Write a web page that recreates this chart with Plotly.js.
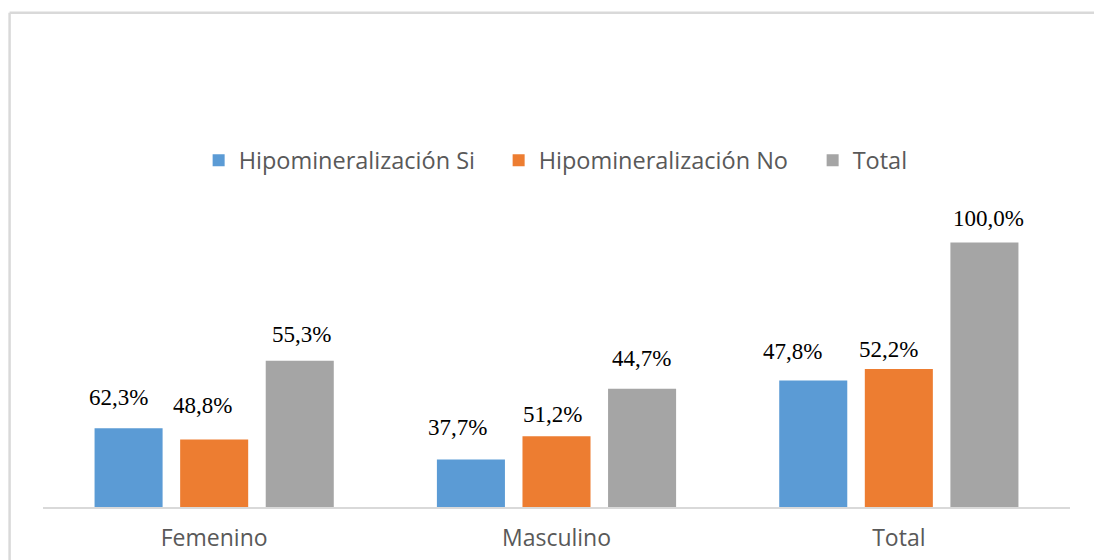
<!DOCTYPE html>
<html>
<head>
<meta charset="utf-8">
<script src="https://cdn.plot.ly/plotly-3.0.1.min.js"></script>
<style>html,body{margin:0;padding:0;background:#fff;}#chart{width:1094px;height:560px;}</style>
</head>
<body>
<div id="chart"></div>
<script>
// ---- data ----
var categories = ["Femenino", "Masculino", "Total"];
var seriesNames = ["Hipomineralización Si", "Hipomineralización No", "Total"];
// bar heights (share of all subjects, %)
var valuesSi    = [29.8, 18.0, 47.8];
var valuesNo    = [25.5, 26.7, 52.2];
var valuesTotal = [55.3, 44.7, 100.0];
// printed data labels
var labelsSi    = ["62,3%", "37,7%", "47,8%"];
var labelsNo    = ["48,8%", "51,2%", "52,2%"];
var labelsTotal = ["55,3%", "44,7%", "100,0%"];

// ---- style / layout ----
var colors = ["#5B9BD5", "#ED7D31", "#A5A5A5"];
var bargap = 0.25;
var pitch = (1 - bargap) / 3;
// label nudges in px [dx, up] per series per category
var nudge = [
  [[-10, 31], [-13, 32], [-21, 29]],
  [[-12, 34], [-4, 22], [-10, 19]],
  [[2, 26], [-1, 30], [4, 24]]
];

var xpos = categories.map(function (c, i) { return i; });
var allValues = [valuesSi, valuesNo, valuesTotal];
var allLabels = [labelsSi, labelsNo, labelsTotal];
var legendWidths = [255, 269, 60];

var traces = allValues.map(function (vals, s) {
  return {
    type: "bar",
    name: seriesNames[s],
    x: xpos,
    y: vals,
    marker: { color: colors[s] },
    legendwidth: legendWidths[s],
    hoverinfo: "none"
  };
});

var annotations = [];
allLabels.forEach(function (labs, s) {
  labs.forEach(function (t, i) {
    annotations.push({
      x: xpos[i] + (s - 1) * pitch,
      y: allValues[s][i],
      xref: "x", yref: "y",
      text: t,
      showarrow: false,
      xanchor: "center", yanchor: "middle",
      xshift: nudge[s][i][0],
      yshift: nudge[s][i][1],
      font: { family: "Liberation Serif, 'Times New Roman', serif", size: 23, color: "#000000" }
    });
  });
});

var L = 43.4, W = 1026.75, B = 52.5, H = 291.8;
function px2x(px) { return (px - L) / W; }
function py2y(py) { return (560 - B - py) / H; }

var layout = {
  width: 1094, height: 560,
  margin: { l: L, r: 1094 - L - W, t: 560 - B - H, b: B, pad: 0 },
  paper_bgcolor: "#ffffff", plot_bgcolor: "#ffffff",
  font: { family: "'Open Sans', sans-serif", color: "#595959", size: 22 },
  barmode: "group",
  bargap: bargap,
  bargroupgap: 0.205,
  showlegend: true,
  legend: {
    orientation: "h",
    x: px2x(199), xanchor: "left",
    y: py2y(160), yanchor: "middle",
    font: { family: "'Open Sans', sans-serif", size: 23.5, color: "#595959" },
    bgcolor: "rgba(0,0,0,0)",
    traceorder: "normal"
  },
  xaxis: {
    range: [-0.5, 2.5],
    tickvals: xpos,
    ticktext: categories,
    showgrid: false, zeroline: false,
    showline: true, linecolor: "#d9d9d9", linewidth: 1.5,
    ticks: "",
    ticklabelstandoff: 10,
    tickfont: { family: "'Open Sans', sans-serif", size: 23, color: "#595959" },
    fixedrange: true
  },
  yaxis: {
    range: [0, 110],
    visible: false,
    showgrid: false, zeroline: false,
    fixedrange: true
  },
  annotations: annotations,
  shapes: [
    { type: "line", xref: "paper", yref: "paper", x0: px2x(10), x1: px2x(1100), y0: py2y(12), y1: py2y(12), line: { color: "#d9d9d9", width: 2.5 } },
    { type: "line", xref: "paper", yref: "paper", x0: px2x(10), x1: px2x(10), y0: py2y(12), y1: py2y(570), line: { color: "#d9d9d9", width: 2.5 } }
  ]
};

Plotly.newPlot("chart", traces, layout, { displayModeBar: false, staticPlot: true });
</script>
</body>
</html>
